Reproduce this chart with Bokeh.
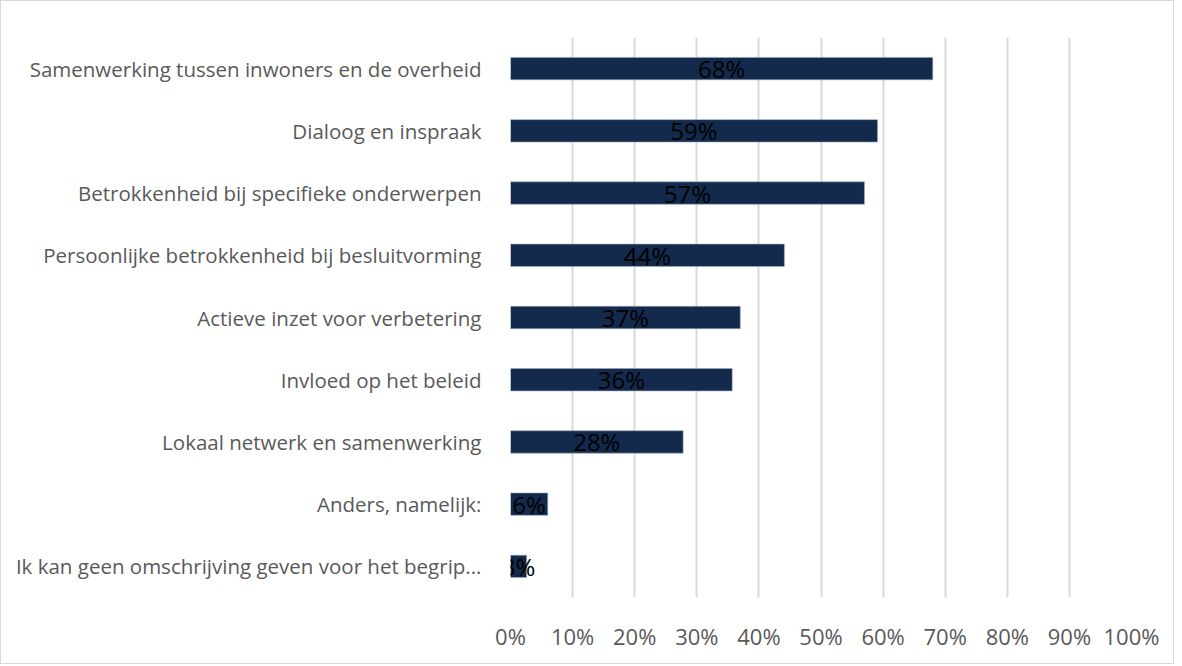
from bokeh.plotting import figure
from bokeh.models import ColumnDataSource, FixedTicker, CustomJSTickFormatter, Range1d, LabelSet
from bokeh.core.properties import value
from bokeh.embed import file_html
from bokeh.resources import INLINE

categories = [
    "Samenwerking tussen inwoners en de overheid",
    "Dialoog en inspraak",
    "Betrokkenheid bij specifieke onderwerpen",
    "Persoonlijke betrokkenheid bij besluitvorming",
    "Actieve inzet voor verbetering",
    "Invloed op het beleid",
    "Lokaal netwerk en samenwerking",
    "Anders, namelijk:",
    "Ik kan geen omschrijving geven voor het begrip...",
]
values = [68.0, 59.1, 57.0, 44.1, 37.0, 35.7, 27.8, 6.0, 2.6]
labels = ["68%", "59%", "57%", "44%", "37%", "36%", "28%", "6%", "3%"]
ticks = [0, 10, 20, 30, 40, 50, 60, 70, 80, 90, 100]

cats_rev = list(reversed(categories))
src = ColumnDataSource(dict(
    cat=categories,
    val=values,
    mid=[v / 2 for v in values],
    lab=labels,
))

p = figure(
    width=1174, height=664,
    y_range=cats_rev,
    x_range=Range1d(0, 100),
    output_backend="svg",
    toolbar_location=None,
    min_border_left=509, min_border_right=44,
    min_border_top=36, min_border_bottom=68,
)
p.styles = {"border": "1px solid #d9d9d9", "box-sizing": "border-box"}
p.outline_line_color = None
p.background_fill_color = "white"
p.border_fill_color = "white"

p.hbar(y="cat", right="val", left=0, height=0.36, source=src,
       fill_color="#132a4c", line_color="#9aa9bd", line_width=0.6)

lbl = LabelSet(x="mid", y="cat", text="lab", source=src,
               text_align="center", text_baseline="middle",
               text_font=value("Open Sans"), text_font_size=value("24px"),
               text_color="black")
p.add_layout(lbl)

p.xaxis.ticker = FixedTicker(ticks=ticks)
p.xaxis.formatter = CustomJSTickFormatter(code="return tick + '%';")
p.xaxis.axis_line_color = None
p.xaxis.major_tick_line_color = None
p.xaxis.minor_tick_line_color = None
p.xaxis.major_label_standoff = 17
p.xaxis.major_label_text_font = "Open Sans"
p.xaxis.major_label_text_font_size = "22px"
p.xaxis.major_label_text_color = "#595959"

p.yaxis.axis_line_color = None
p.yaxis.major_tick_line_color = None
p.yaxis.minor_tick_line_color = None
p.yaxis.major_label_standoff = 23
p.yaxis.major_label_text_font = "Open Sans"
p.yaxis.major_label_text_font_size = "20.5px"
p.yaxis.major_label_text_color = "#595959"

p.xgrid.grid_line_color = "#d9d9d9"
p.xgrid.grid_line_width = 2
p.ygrid.grid_line_color = None

open("out.html", "w").write(file_html(p, INLINE))
